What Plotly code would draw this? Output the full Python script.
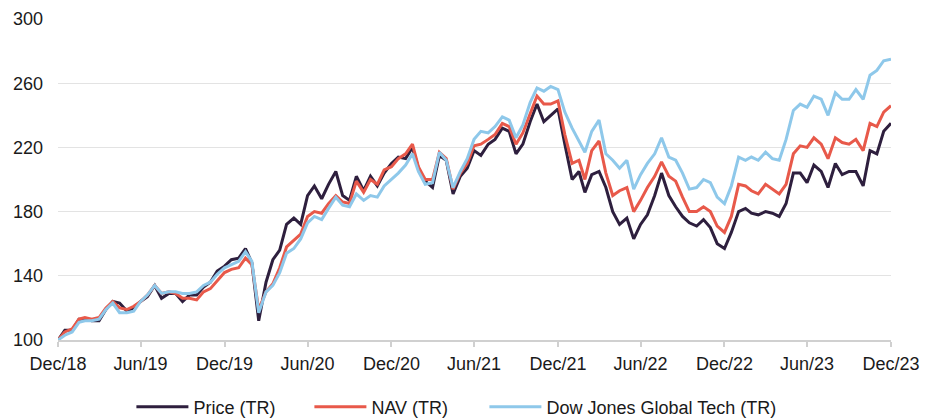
import datetime as dt
import plotly.graph_objects as go

# semi-monthly observation dates (month-end and mid-month), Dec 2018 .. Dec 2023
dates = []
for y in range(2018, 2024):
    for m in range(1, 13):
        if (y, m) < (2018, 12):
            continue
        if (y, m) != (2018, 12):
            dates.append(dt.date(y, m, 15))
        nxt = dt.date(y + (m == 12), m % 12 + 1, 1)
        dates.append(nxt - dt.timedelta(days=1))

price = [100, 106, 106, 113, 113, 112, 112, 119, 124, 123,
         118, 120, 124, 127, 134, 126, 129, 129, 124, 128,
         128, 133, 136, 143, 146, 150, 151, 157, 148, 112,
         136, 150, 156, 172, 176, 172, 190, 196, 188, 197,
         205, 190, 187, 202, 193, 202, 196, 204, 210, 214,
         213, 220, 207, 199, 195, 215, 212, 191, 202, 207,
         218, 215, 222, 225, 232, 230, 216, 222, 236, 247,
         236, 240, 244, 222, 200, 205, 192, 203, 205, 195,
         180, 172, 176, 163, 172, 178, 190, 204, 190, 183,
         177, 173, 171, 175, 170, 160, 157, 167, 180, 182,
         179, 178, 180, 179, 177, 185, 204, 204, 198, 209,
         205, 195, 210, 203, 205, 205, 196, 218, 216, 230, 235]

nav = [100, 105, 107, 113, 114, 113, 114, 120, 124, 120,
       119, 121, 124, 128, 134, 129, 130, 129, 126, 126,
       125, 130, 132, 137, 142, 144, 145, 151, 147, 119,
       130, 135, 145, 158, 162, 166, 177, 180, 179, 185,
       190, 186, 185, 199, 192, 200, 197, 206, 208, 213,
       216, 222, 208, 200, 200, 217, 213, 194, 204, 210,
       221, 222, 225, 228, 235, 233, 222, 229, 241, 252,
       247, 247, 249, 228, 210, 212, 200, 218, 224, 204,
       190, 193, 195, 180, 187, 195, 202, 211, 202, 199,
       189, 180, 180, 183, 180, 171, 167, 177, 197, 196,
       193, 191, 197, 194, 191, 197, 216, 221, 220, 226,
       222, 213, 226, 223, 222, 225, 218, 235, 233, 242, 246]

tech = [100, 103, 105, 111, 112, 112, 113, 119, 123, 117,
        117, 118, 124, 128, 134, 129, 130, 130, 129, 129,
        130, 134, 136, 141, 145, 147, 149, 155, 149, 117,
        130, 134, 142, 154, 157, 163, 173, 177, 175, 182,
        189, 184, 183, 191, 187, 190, 189, 196, 200, 204,
        209, 216, 205, 197, 198, 217, 212, 195, 205, 213,
        225, 230, 229, 233, 239, 237, 226, 234, 248, 257,
        255, 258, 256, 242, 232, 224, 217, 230, 237, 216,
        212, 207, 212, 194, 203, 210, 216, 226, 214, 212,
        204, 194, 195, 200, 198, 189, 185, 196, 214, 212,
        214, 212, 217, 213, 212, 225, 243, 247, 245, 252,
        250, 240, 254, 250, 250, 256, 250, 265, 268, 274, 275]

series_names = ["Price (TR)", "NAV (TR)", "Dow Jones Global Tech (TR)"]
series_colors = ["#2e1f3e", "#e8594a", "#8ec8ea"]
legend_ids = ["legend", "legend2", "legend3"]

tick_dates = ["2018-12-31", "2019-06-30", "2019-12-31", "2020-06-30", "2020-12-31",
              "2021-06-30", "2021-12-31", "2022-06-30", "2022-12-31", "2023-06-30",
              "2023-12-31"]
tick_labels = ["Dec/18", "Jun/19", "Dec/19", "Jun/20", "Dec/20", "Jun/21",
               "Dec/21", "Jun/22", "Dec/22", "Jun/23", "Dec/23"]

fig = go.Figure()
for name, vals, col, lg in zip(series_names, [price, nav, tech], series_colors, legend_ids):
    fig.add_trace(go.Scatter(x=dates, y=vals, name=name, mode="lines", legend=lg,
                             line=dict(color=col, width=3)))

font = dict(family="Liberation Sans, Arial, sans-serif", size=18, color="#1a1a1a")


def legend_at(px):
    return dict(orientation="h", xref="container", x=(px - 5.6) / 937, xanchor="left",
                yref="container", y=12 / 419, yanchor="middle",
                font=font, itemwidth=52, bgcolor="rgba(0,0,0,0)")


fig.update_layout(
    width=937, height=419,
    margin=dict(l=58, r=46, t=19, b=79, autoexpand=False),
    plot_bgcolor="white", paper_bgcolor="white",
    font=font,
    showlegend=True,
    legend=legend_at(137),
    legend2=legend_at(315),
    legend3=legend_at(490),
    xaxis=dict(type="date", range=["2018-12-31", "2023-12-31"],
               tickvals=tick_dates, ticktext=tick_labels, automargin=False,
               showgrid=False, showline=True, linecolor="#d0d0d0", linewidth=1.5,
               ticks="outside", ticklen=5, tickcolor="#d0d0d0", tickwidth=1.5,
               tickfont=font, zeroline=False, ticklabelstandoff=2),
    yaxis=dict(range=[100, 300], tickvals=[100, 140, 180, 220, 260, 300],
               showgrid=True, gridcolor="#e3e3e3", gridwidth=1, automargin=False,
               showline=False, ticks="", tickfont=font, zeroline=False,
               ticklabelstandoff=14),
)

fig.write_html("out.html", config={"displayModeBar": False},
               post_script="document.body.style.margin='0';document.body.style.padding='0';")
